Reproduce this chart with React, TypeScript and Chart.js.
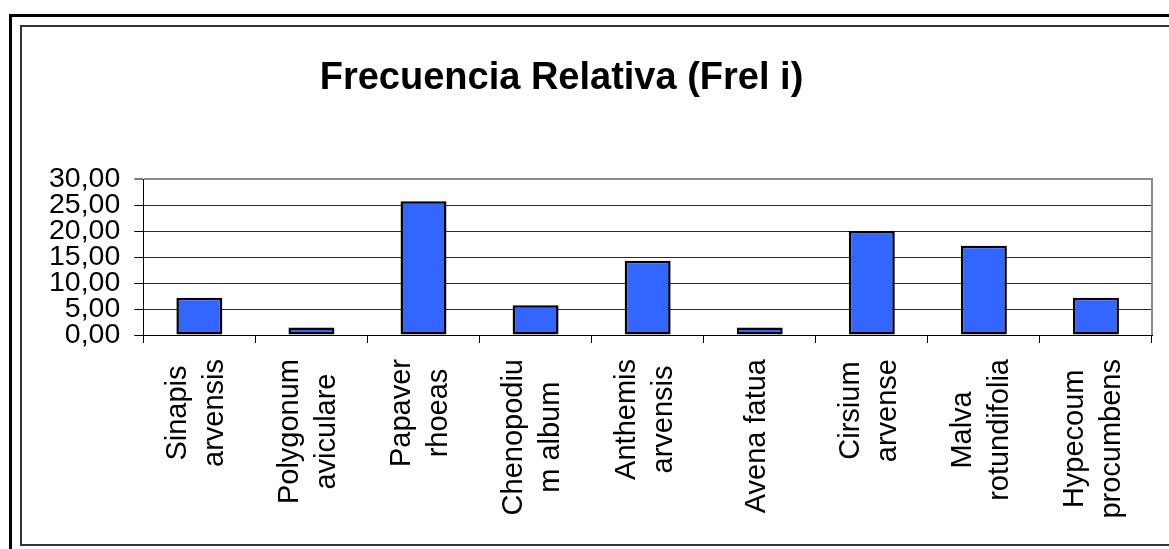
import React, { useEffect, useRef } from "react";
import { Chart, registerables } from "chart.js";

Chart.register(...registerables);

const titleText = "Frecuencia Relativa (Frel i)";

const categories: string[][] = [
  ["Sinapis", "arvensis"],
  ["Polygonum", "aviculare"],
  ["Papaver", "rhoeas"],
  ["Chenopodiu", "m album"],
  ["Anthemis", "arvensis"],
  ["Avena fatua"],
  ["Cirsium", "arvense"],
  ["Malva", "rotundifolia"],
  ["Hypecoum", "procumbens"],
];

const frelValues: number[] = [7.14, 1.43, 25.71, 5.71, 14.29, 1.43, 20.0, 17.14, 7.14];

const yTickValues: number[] = [0, 5, 10, 15, 20, 25, 30];

const FONT = '"Liberation Sans", Arial, Helvetica, sans-serif';
const W = 1169;
const H = 549;

const decorPlugin = {
  id: "decor",
  afterDraw(chart: any) {
    const { ctx, chartArea, scales } = chart;
    const x = scales.x;
    ctx.save();
    // right border of plot area
    ctx.strokeStyle = "#8c8c8c";
    ctx.lineWidth = 2;
    ctx.beginPath();
    ctx.moveTo(chartArea.right, chartArea.top - 1);
    ctx.lineTo(chartArea.right, chartArea.bottom);
    ctx.stroke();

    // title
    ctx.fillStyle = "#000";
    ctx.font = `bold 38px ${FONT}`;
    ctx.textAlign = "center";
    ctx.textBaseline = "middle";
    ctx.fillText(titleText, 561.5, 79);

    // category labels, rotated, lines centered on each other
    ctx.font = `29px ${FONT}`;
    ctx.textAlign = "center";
    ctx.textBaseline = "alphabetic";
    const capH = 29 * 0.716;
    const lineGap = 37;
    const anchorY = chartArea.bottom + 24;
    categories.forEach((lines, i) => {
      const cx = x.getPixelForValue(i) - 5;
      const maxW = Math.max(...lines.map((l) => ctx.measureText(l).width));
      const n = lines.length;
      const ty1 = (capH - (n - 1) * lineGap) / 2;
      ctx.save();
      ctx.translate(cx, anchorY);
      ctx.rotate(-Math.PI / 2);
      lines.forEach((l, k) => ctx.fillText(l, -maxW / 2, ty1 + k * lineGap));
      ctx.restore();
    });
    ctx.restore();
  },
};

export default function App() {
  const canvasRef = useRef<HTMLCanvasElement | null>(null);

  useEffect(() => {
    const canvas = canvasRef.current;
    if (!canvas) return;
    const chart = new Chart(canvas, {
      type: "bar",
      data: {
        labels: categories.map((c) => c.join(" ")),
        datasets: [
          {
            data: frelValues,
            backgroundColor: "#3366ff",
            borderColor: "#000000",
            borderWidth: 2.5,
            borderSkipped: false,
            barPercentage: 0.41,
            categoryPercentage: 1,
          },
        ],
      },
      options: {
        animation: false,
        responsive: false,
        devicePixelRatio: 1,
        layout: { padding: { top: 179, bottom: 206, left: 35, right: 17 } },
        plugins: {
          legend: { display: false },
          tooltip: { enabled: false },
          title: { display: false },
        },
        scales: {
          x: {
            grid: {
              drawOnChartArea: false,
              drawTicks: true,
              tickLength: 8,
              tickColor: "#000",
              offset: true,
            },
            border: { display: true, color: "#000", width: 1 },
            ticks: { display: false },
          },
          y: {
            min: 0,
            max: 30,
            afterBuildTicks: (scale: any) => {
              scale.ticks = yTickValues.map((v) => ({ value: v }));
            },
            ticks: {
              autoSkip: false,
              color: "#000",
              padding: 14,
              font: { family: FONT, size: 28.5 },
              callback: (v: any) => Number(v).toFixed(2).replace(".", ","),
            },
            grid: {
              color: (c: any) => (c.tick && c.tick.value === 30 ? "#8c8c8c" : "#2a2a2a"),
              lineWidth: (c: any) => (c.tick && c.tick.value === 30 ? 2 : 1),
              tickColor: "#000",
              tickLength: 9,
              tickWidth: 1,
            },
            border: { display: true, color: "#000", width: 1 },
          },
        },
      },
      plugins: [decorPlugin],
    });
    return () => chart.destroy();
  }, []);

  return (
    <div
      style={{
        position: "absolute",
        left: 0,
        top: 0,
        width: W,
        height: H,
        overflow: "hidden",
        background: "#fff",
      }}
    >
      <div
        style={{
          position: "absolute",
          left: 9,
          top: 14,
          width: 3000,
          height: 2000,
          border: "3px solid #000",
          boxSizing: "border-box",
        }}
      />
      <div
        style={{
          position: "absolute",
          left: 20,
          top: 25,
          width: 3000,
          height: 521,
          border: "2px solid #333",
          boxSizing: "border-box",
        }}
      />
      <canvas
        ref={canvasRef}
        width={W}
        height={H}
        style={{ position: "absolute", left: 0, top: 0, width: W, height: H }}
      />
    </div>
  );
}
